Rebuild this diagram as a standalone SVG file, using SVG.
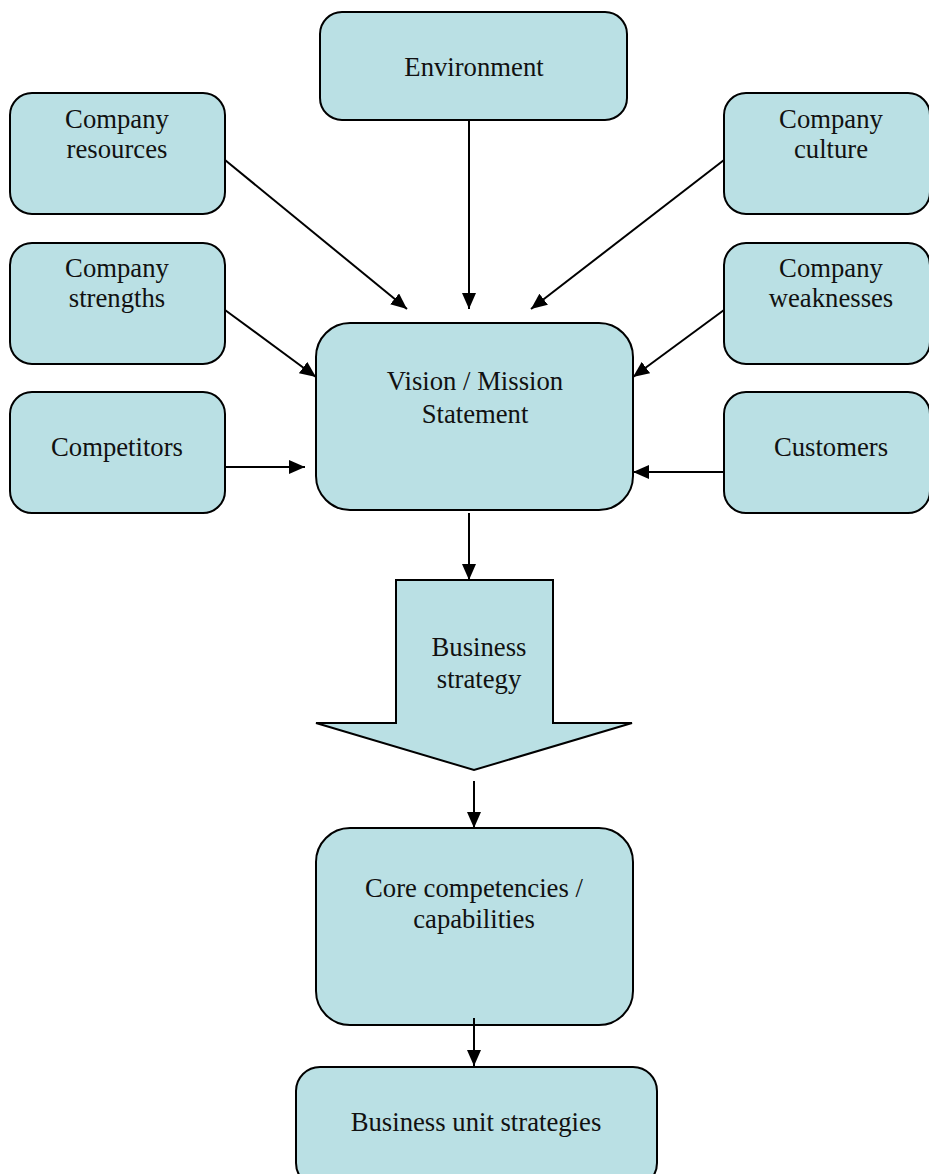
<svg xmlns="http://www.w3.org/2000/svg" width="929" height="1174" viewBox="0 0 929 1174">
<style>
.box{fill:#BAE0E4;stroke:#000;stroke-width:2}
.t{font-family:"Liberation Serif","Times New Roman",serif;font-size:26.7px;fill:#111;text-anchor:middle}
.c{stroke:#000;stroke-width:2;fill:none;marker-end:url(#ah)}
</style>
<defs>
<marker id="ah" viewBox="0 0 16 14" refX="16" refY="7" markerWidth="16" markerHeight="14" markerUnits="userSpaceOnUse" orient="auto">
<path d="M0,0 L16,7 L0,14 z" fill="#000"/>
</marker>
</defs>
<rect width="929" height="1174" fill="#fff"/>
<g id="environment"><rect class="box" x="320" y="12" width="307" height="108" rx="22"/><text class="t" x="474" y="76">Environment</text></g>
<g id="company-resources"><rect class="box" x="10" y="93" width="215" height="121" rx="22"/><text class="t" x="117" y="128">Company</text><text class="t" x="117" y="158">resources</text></g>
<g id="company-strengths"><rect class="box" x="10" y="243" width="215" height="121" rx="22"/><text class="t" x="117" y="277">Company</text><text class="t" x="117" y="307">strengths</text></g>
<g id="competitors"><rect class="box" x="10" y="392" width="215" height="121" rx="22"/><text class="t" x="117" y="456">Competitors</text></g>
<g id="company-culture"><rect class="box" x="724" y="93" width="206" height="121" rx="22"/><text class="t" x="831" y="128">Company</text><text class="t" x="831" y="158">culture</text></g>
<g id="company-weaknesses"><rect class="box" x="724" y="243" width="206" height="121" rx="22"/><text class="t" x="831" y="277">Company</text><text class="t" x="831" y="307">weaknesses</text></g>
<g id="customers"><rect class="box" x="724" y="392" width="206" height="121" rx="22"/><text class="t" x="831" y="456">Customers</text></g>
<g id="vision"><rect class="box" x="316" y="323" width="317" height="187" rx="34"/><text class="t" x="475" y="390">Vision / Mission</text><text class="t" x="475" y="423">Statement</text></g>
<g id="business-strategy"><path class="box" d="M396,580 L553,580 L553,723 L632,723 L474,770 L316,723 L396,723 Z"/><text class="t" x="479" y="656">Business</text><text class="t" x="479" y="688">strategy</text></g>
<g id="core"><rect class="box" x="316" y="828" width="317" height="197" rx="34"/><text class="t" x="474" y="897">Core competencies /</text><text class="t" x="474" y="928">capabilities</text></g>
<g id="business-unit"><rect class="box" x="296" y="1067" width="361" height="120" rx="24"/><text class="t" x="476" y="1131">Business unit strategies</text></g>
<g id="connectors">
<line class="c" x1="469" y1="120" x2="469" y2="309"/>
<line class="c" x1="225" y1="160" x2="407" y2="309"/>
<line class="c" x1="724" y1="160" x2="531" y2="309"/>
<line class="c" x1="225" y1="310" x2="316" y2="377"/>
<line class="c" x1="724" y1="310" x2="633" y2="377"/>
<line class="c" x1="225" y1="467" x2="305" y2="467"/>
<line class="c" x1="724" y1="472" x2="633" y2="472"/>
<line class="c" x1="469" y1="513" x2="469" y2="580"/>
<line class="c" x1="474" y1="781" x2="474" y2="828"/>
<line class="c" x1="474" y1="1018" x2="474" y2="1066"/>
</g>
</svg>
